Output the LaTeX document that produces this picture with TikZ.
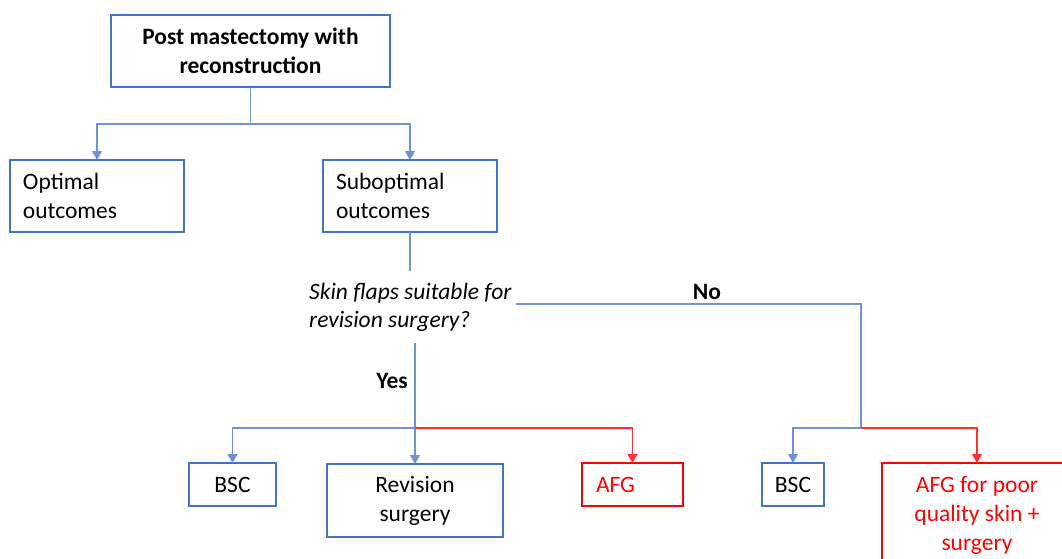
\documentclass[tikz,border=0pt]{standalone}
\usepackage{fontspec}
\setmainfont{Carlito}
\usetikzlibrary{arrows.meta}
\definecolor{bx}{HTML}{4472C4}
\definecolor{ln}{HTML}{6F93D2}
\definecolor{rd}{HTML}{FF0000}
\definecolor{rl}{HTML}{FF3030}
\newcommand{\myfs}{\fontsize{23.5}{29}\selectfont}
\begin{document}
\begin{tikzpicture}[x=1pt,y=-1pt,
  every node/.style={font=\myfs},
  box/.style={draw=bx,line width=1.6pt,rectangle,inner sep=0pt,outer sep=0pt},
  rbox/.style={draw=rd,line width=1.6pt,rectangle,inner sep=0pt,outer sep=0pt,text=rd},
  conn/.style={draw=ln,line width=1.2pt},
  rconn/.style={draw=rl,line width=1.2pt},
  tip/.style={-{Triangle[width=10pt,length=9pt]}}
]
\useasboundingbox (0,0) rectangle (1062,558);
\clip (0,0) rectangle (1062,558);
\fill[white] (0,0) rectangle (1062,558);

% boxes
\node[box,minimum width=279pt,minimum height=72pt,align=center,font=\myfs\bfseries]
  (top) at (250.5,51) {Post mastectomy with\\reconstruction};
\node[box,minimum width=174pt,minimum height=72pt,text width=148pt,align=left]
  (opt) at (97,196) {Optimal\\outcomes};
\node[box,minimum width=174pt,minimum height=72pt,text width=148pt,align=left]
  (sub) at (410,196) {Suboptimal\\outcomes};
\node[minimum height=72pt,inner xsep=4pt,inner ysep=0pt,align=left,anchor=west,font=\fontsize{23.5}{28}\selectfont\itshape]
  (q) at (305,307) {Skin flaps suitable for\\revision surgery?};
\node[box,minimum width=87pt,minimum height=43pt] (bsc1) at (232.5,484.5) {BSC};
\node[box,minimum width=176pt,minimum height=73pt,align=center] (rev) at (415,500.5) {Revision\\surgery};
\node[rbox,minimum width=101pt,minimum height=43pt,text width=73pt,align=left] (afg1) at (632.5,484.5) {AFG};
\node[box,minimum width=62pt,minimum height=43pt] (bsc2) at (793,484.5) {BSC};
\node[rbox,minimum width=190pt,minimum height=104pt,align=center] (afg2) at (977,515) {AFG for poor\\quality skin +\\surgery};

% labels
\node[font=\myfs\bfseries,anchor=east,inner sep=0pt] (yes) at (408,381) {Yes};
\node[font=\myfs\bfseries,inner sep=0pt] (no) at (707,292) {No};

% junctions
\coordinate (j0) at (250.5,124);
\coordinate (j1) at (415,428);
\coordinate (k) at (861,304);
\coordinate (j2) at (861,428);

% connectors
\draw[conn] (top.south) -- (j0);
\draw[conn,tip] (j0) -| (opt.north);
\draw[conn,tip] (j0) -| (sub.north);
\draw[conn] (sub.south) -- (sub.south |- q.north);
\draw[conn,tip] (rev.north |- q.south) -- (rev.north);
\draw[conn,tip] (j1) -| (bsc1.north);
\draw[rconn,tip] (j1) -| (afg1.north);
\draw[conn] (q.east |- k) -- (k) -- (j2);
\draw[conn,tip] (j2) -| (bsc2.north);
\draw[rconn,tip] (j2) -| (afg2.north);
\end{tikzpicture}
\end{document}
